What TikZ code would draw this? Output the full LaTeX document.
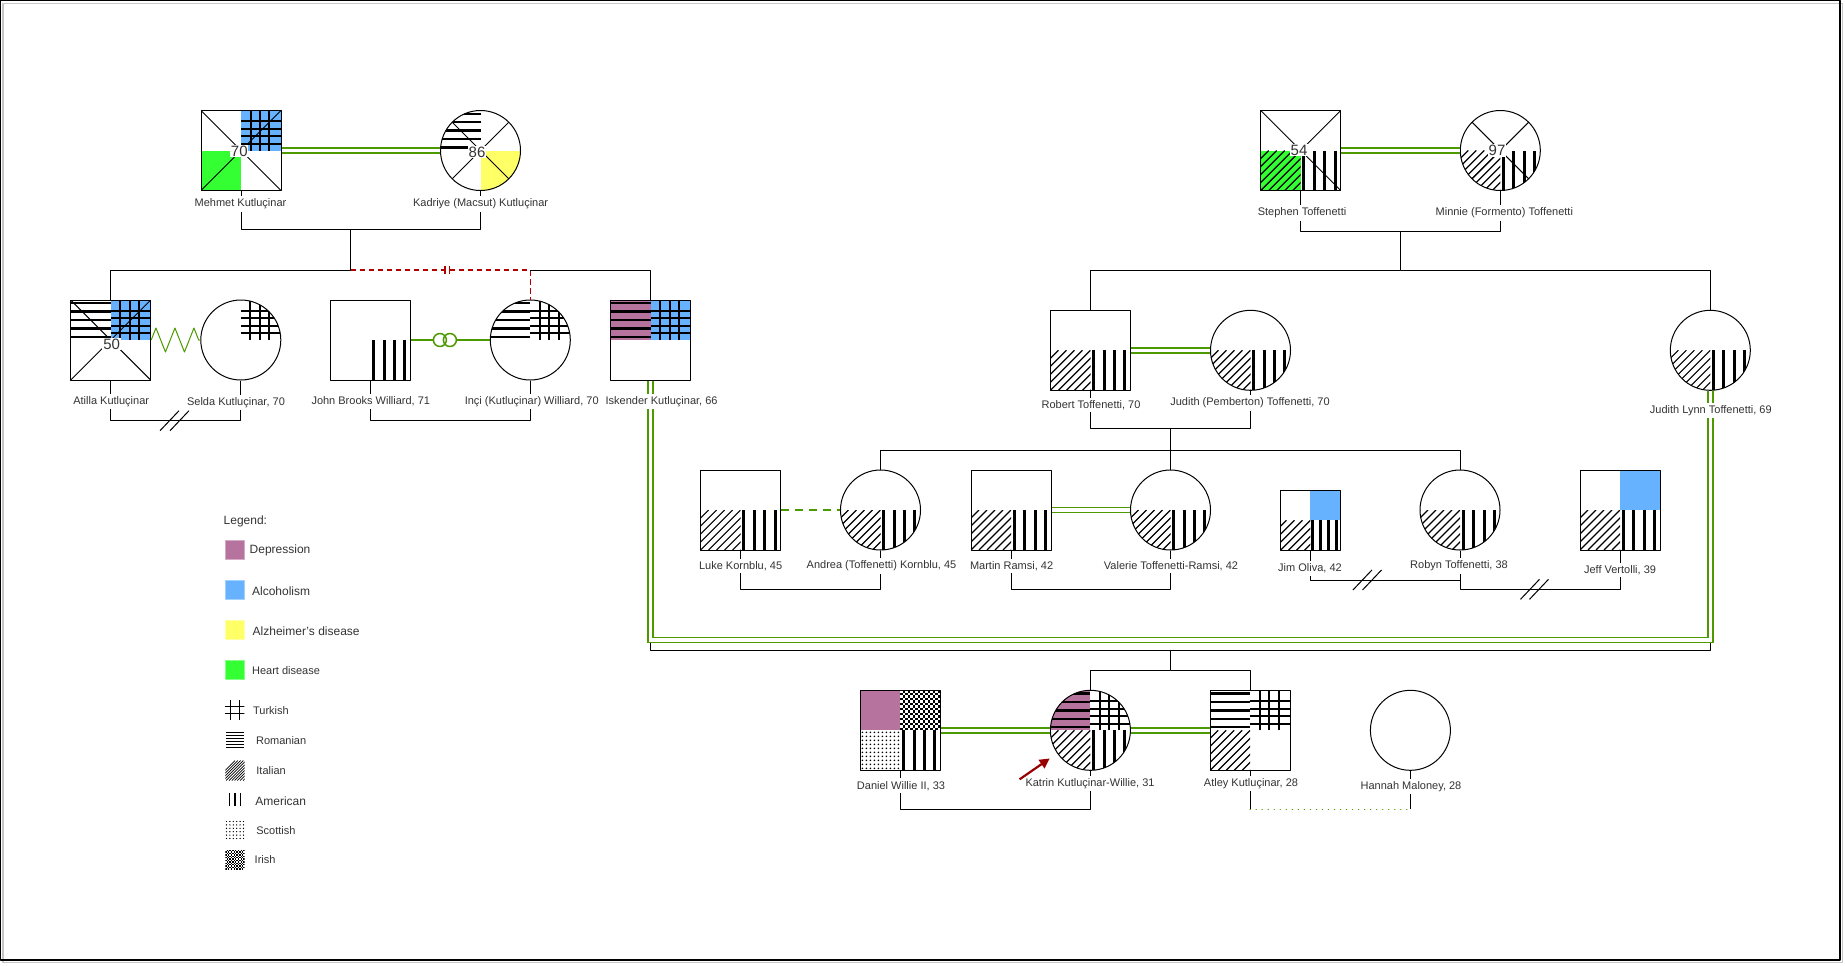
\documentclass[tikz,border=0pt]{standalone}
\usepackage{fontspec}
\setmainfont{Liberation Sans}
\usetikzlibrary{arrows.meta,decorations.pathmorphing}
\definecolor{deprc}{HTML}{B5739D}
\definecolor{alcoc}{HTML}{66B2FF}
\definecolor{alzc}{HTML}{FFFF66}
\definecolor{heartc}{HTML}{33FF33}
\definecolor{wedc}{HTML}{4D9900}
\definecolor{cutc}{HTML}{B20000}
\definecolor{arrc}{HTML}{990000}
\definecolor{txtc}{HTML}{333333}
\newcommand\inside[1]{\begin{scope}[shift={(path picture bounding box.center)},x=1pt,y=1pt]#1\end{scope}}
\newcommand\pfill[4]{\fill[#1] (#2,#3) rectangle ++(#4,#4);}
\newcommand\pturk[3]{%
	\foreach \f in {.24,.475,.71}{\draw[line width=1pt] ({#1+\f*#3},#2) -- ++(0,#3);}%
	\foreach \f in {.17,.36,.54,.73}{\draw[line width=1pt] (#1,{#2+\f*#3}) -- ++(#3,0);}}
\newcommand\prom[3]{\foreach \f in {.08,.29,.5,.71,.92}{\draw[line width=1.2pt] (#1,{#2+\f*#3}) -- ++(#3,0);}}
\newcommand\pital[3]{\begin{scope}\clip (#1,#2) rectangle ++(#3,#3);
	\foreach \k in {-20,-16,...,20}{\draw[line width=.6pt] ({#1+\k},#2) -- ++(#3,#3);}\end{scope}}
\newcommand\pamer[3]{\foreach \f in {.075,.34,.6,.86}{\draw[line width=1.5pt] ({#1+\f*#3},#2) -- ++(0,#3);}}
\newcommand\pscot[3]{\foreach \i in {0,...,9}{\foreach \j in {0,...,9}{\fill ({#1+1+2*\i},{#2+1+2*\j}) circle[radius=.45pt];}}}
\newcommand\pirish[3]{\foreach \i in {0,...,15}{\foreach \j in {0,...,15}{\pgfmathtruncatemacro\chk{mod(\i+\j,2)}%
	\ifnum\chk=0 \fill ({#1+1.25*\i},{#2+1.25*\j}) rectangle ++(1.25,1.25);\fi}}}
\newcommand\xmark{\draw[line width=.5pt] (-20,-20) -- (20,20) (-20,20) -- (20,-20);}
\begin{document}
\begin{tikzpicture}[x=.5pt,y=-.5pt,line join=round,
	male/.style={draw,line width=.5pt,minimum size=40pt,inner sep=0pt},
	female/.style={male,circle},
	toff/.style={path picture={\inside{\pital{-20}{-20}{20}\pamer{0}{-20}{20}}}},
	kin/.style={line width=.5pt},
	wed/.style={draw=wedc,double=white,double distance=1.6pt,line width=.9pt,line join=miter},
	affair/.style={draw=wedc,line width=.75pt,dash pattern=on 4pt off 3pt},
	dotline/.style={draw=wedc,line width=.8pt,dash pattern=on .01pt off 3pt,line cap=round},
	bond/.style={draw=wedc,line width=.75pt},
	conflict/.style={draw=wedc,line width=.5pt,decorate,decoration={zigzag,segment length=9.5pt,amplitude=6pt}},
	cutoff/.style={draw=cutc,line width=.75pt,dash pattern=on 2.7pt off 1.8pt},
	pointer/.style={draw=arrc,line width=1.1pt,-{Triangle[length=5pt,width=5pt]},shorten >=4.5pt},
	lbl/.style={fill=white,text=txtc,inner sep=1.3pt,font=\fontsize{5.5}{6.5}\selectfont},
	age/.style={fill=white,text=txtc,inner sep=.4pt,font=\fontsize{7.5}{8.5}\selectfont},
	swatch/.style={fill=#1,draw=#1!60!white,line width=.4pt,minimum size=9.5pt,inner sep=0pt},
	icon/.style={minimum size=9.7pt,inner sep=0pt},
	lgtext/.style={anchor=west,inner sep=0pt,text=txtc,font=\fontsize{6}{7}\selectfont},
	lgsmall/.style={lgtext,font=\fontsize{5.5}{6.5}\selectfont}]
	\useasboundingbox (0,0) rectangle (1845,965);
	\draw[gray!45,line width=.8pt] (2.7,3.3) rectangle (1842.5,962.5);
	\draw[line width=.8pt] (.5,.5) rectangle (1840,960);

	\node[male,path picture={\inside{\pfill{alcoc}{0}{0}{20}\pturk{0}{0}{20}\pfill{heartc}{-20}{-20}{20}\xmark}}] (mehmet) at (241,150.5) {};
	\node[female,path picture={\inside{\prom{-20}{0}{20}\pfill{alzc}{0}{-20}{20}\xmark}}] (kadriye) at (480.5,150.5) {};
	\node[male,path picture={\inside{\pfill{heartc}{-20}{-20}{20}\pital{-20}{-20}{20}\pamer{0}{-20}{20}\xmark}}] (stephen) at (1300.7,150.5) {};
	\node[female,path picture={\inside{\pital{-20}{-20}{20}\pamer{0}{-20}{20}\xmark}}] (minnie) at (1500.3,150.5) {};
	\node[male,path picture={\inside{\prom{-20}{0}{20}\pfill{alcoc}{0}{0}{20}\pturk{0}{0}{20}\xmark}}] (atilla) at (110.7,340) {};
	\node[female,path picture={\inside{\pturk{0}{0}{20}}}] (selda) at (240.8,340) {};
	\node[male,path picture={\inside{\pamer{0}{-20}{20}}}] (john) at (370.5,340) {};
	\node[female,path picture={\inside{\prom{-20}{0}{20}\pturk{0}{0}{20}}}] (inci) at (530.3,340) {};
	\node[male,path picture={\inside{\pfill{deprc}{-20}{0}{20}\prom{-20}{0}{20}\pfill{alcoc}{0}{0}{20}\pturk{0}{0}{20}}}] (iskender) at (650.5,340) {};
	\node[male,toff] (robert) at (1090.5,350.3) {};
	\node[female,toff] (judithp) at (1250.5,350.3) {};
	\node[female,toff] (judlynn) at (1710.3,350.3) {};
	\node[male,toff] (luke) at (740.6,510) {};
	\node[female,toff] (andrea) at (880.5,510) {};
	\node[male,toff] (martin) at (1011,510) {};
	\node[female,toff] (valerie) at (1170.5,510) {};
	\node[male,minimum size=30pt,path picture={\inside{\pfill{alcoc}{0}{0}{15}\pital{-15}{-15}{15}\pamer{0}{-15}{15}}}] (jim) at (1310.4,520.3) {};
	\node[female,toff] (robyn) at (1460,510) {};
	\node[male,path picture={\inside{\pfill{alcoc}{0}{0}{20}\pital{-20}{-20}{20}\pamer{0}{-20}{20}}}] (jeff) at (1620,510) {};
	\node[male,path picture={\inside{\pfill{deprc}{-20}{0}{20}\pirish{0}{0}{20}\pscot{-20}{-20}{20}\pamer{0}{-20}{20}}}] (daniel) at (900.4,730.3) {};
	\node[female,path picture={\inside{\pfill{deprc}{-20}{0}{20}\prom{-20}{0}{20}\pturk{0}{0}{20}\pital{-20}{-20}{20}\pamer{0}{-20}{20}}}] (katrin) at (1090.4,730.3) {};
	\node[male,path picture={\inside{\prom{-20}{0}{20}\pturk{0}{0}{20}\pital{-20}{-20}{20}}}] (atley) at (1250.2,730.3) {};
	\node[female] (hannah) at (1410.4,730.3) {};

	\node[age] (mehmetage) at (239.3,151) {70};
	\node[age] (kadriyeage) at (477,152) {86};
	\node[age] (stephenage) at (1299,150) {54};
	\node[age] (minnieage) at (1497,150.5) {97};
	\node[age] (atillaage) at (111.6,344) {50};

	\coordinate (kutlu) at (350.7,229.5);
	\coordinate (kutkids) at (350.7,270);
	\draw[kin] (mehmet) |- (kutlu) -| (kadriye);
	\draw[kin] (kutlu) -- (kutkids) -| (atilla);
	\draw[cutoff] (kutkids) -| (inci);
	\draw[kin] (inci |- kutkids) -| (iskender);
	\draw[draw=cutc,line width=.6pt] (445,266) -- (445,274) (449.5,266) -- (449.5,274);

	\coordinate (toff) at (1400.5,231.8);
	\coordinate (toffkids) at (1400.5,270.6);
	\draw[kin] (stephen) |- (toff) -| (minnie);
	\draw[kin] (toff) -- (toffkids) -| (robert);
	\draw[kin] (toffkids) -| (judlynn);

	\coordinate (pember) at (1170.5,428.3);
	\coordinate (pemkids) at (1170.5,450);
	\draw[kin] (robert) |- (pember) -| (judithp);
	\draw[kin] (pember) -- (pemkids) -- (valerie);
	\draw[kin] (andrea) |- (pemkids) -| (robyn);

	\coordinate (atsel) at (175,420.7);
	\coordinate (join) at (450,420.7);
	\coordinate (kornblu) at (810,589.3);
	\coordinate (ramsi) at (1090,589.3);
	\coordinate (jimrob) at (1385,580);
	\coordinate (robjeff) at (1540,589.3);
	\coordinate (willie) at (995,809.3);
	\coordinate (athan) at (1330,809.3);
	\draw[kin] (atilla) |- (atsel) -| (selda);
	\draw[kin] (john) |- (join) -| (inci);
	\draw[kin] (luke) |- (kornblu) -| (andrea);
	\draw[kin] (martin) |- (ramsi) -| (valerie);
	\draw[kin] (jim) |- (jimrob) -| (robyn);
	\draw[kin] (robyn) |- (robjeff) -| (jeff);
	\draw[kin] (daniel) |- (willie) -| (katrin);
	\draw[kin] (atley) -- (atley |- athan);
	\draw[kin] (hannah) -- (hannah |- athan);
	\draw[dotline] (atley |- athan) -- (hannah |- athan);
	\draw[kin] (160,430.7) -- ++(19,-20) (170,430.7) -- ++(19,-20);
	\draw[kin] (1352.9,590) -- ++(19,-20) (1362.5,590) -- ++(19,-20);
	\draw[kin] (1520.5,599.3) -- ++(19,-20) (1529.5,599.3) -- ++(19,-20);

	\coordinate (iskids) at (1170.5,650);
	\coordinate (kkids) at (1170.5,670.7);
	\coordinate (isjud) at (1180,640);
	\draw[kin] (iskender) |- (iskids) -| (judlynn);
	\draw[kin] (iskids) -- (kkids) -| (katrin);
	\draw[kin] (kkids) -| (atley);
	\draw[wed] (iskender) |- (isjud) -| (judlynn);

	\draw[wed] (mehmet) -- (kadriye);
	\draw[wed] (stephen) -- (minnie);
	\draw[wed] (robert) -- (judithp);
	\draw[wed] (martin) -- (valerie);
	\draw[wed] (daniel) -- (katrin);
	\draw[wed] (katrin) -- (atley);
	\draw[affair] (luke) -- (andrea);
	\draw[conflict] (atilla) -- (selda);
	\draw[bond] (john) -- coordinate[pos=.43] (rings) (inci);
	\fill[white] ([xshift=-2.5pt]rings) circle[radius=3.25pt] ([xshift=2.5pt]rings) circle[radius=3.25pt];
	\draw[bond] ([xshift=-2.5pt]rings) circle[radius=3.25pt] ([xshift=2.5pt]rings) circle[radius=3.25pt];

	\node[lbl] (mehmetlbl) at (240.5,204) {Mehmet Kutluçinar};
	\node[lbl] (kadriyelbl) at (480.6,204) {Kadriye (Macsut) Kutluçinar};
	\node[lbl] (stephenlbl) at (1302,213) {Stephen Toffenetti};
	\node[lbl] (minnielbl) at (1504.3,213) {Minnie (Formento) Toffenetti};
	\node[lbl] (atillalbl) at (111.2,401.7) {Atilla Kutluçinar};
	\node[lbl] (seldalbl) at (236,402.7) {Selda Kutluçinar, 70};
	\node[lbl] (johnlbl) at (370.8,401.7) {John Brooks Williard, 71};
	\node[lbl] (incilbl) at (531.7,401.7) {Inçi (Kutluçinar) Williard, 70};
	\node[lbl] (iskenderlbl) at (661.6,401.7) {Iskender Kutluçinar, 66};
	\node[lbl] (robertlbl) at (1091,405) {Robert Toffenetti, 70};
	\node[lbl] (judithplbl) at (1250,403) {Judith (Pemberton) Toffenetti, 70};
	\node[lbl] (judlynnlbl) at (1710.8,410.7) {Judith Lynn Toffenetti, 69};
	\node[lbl] (lukelbl) at (740.6,566) {Luke Kornblu, 45};
	\node[lbl] (andrealbl) at (881.5,566) {Andrea (Toffenetti) Kornblu, 45};
	\node[lbl] (martinlbl) at (1011.6,566) {Martin Ramsi, 42};
	\node[lbl] (valerielbl) at (1171,566) {Valerie Toffenetti-Ramsi, 42};
	\node[lbl] (jimlbl) at (1310,568.7) {Jim Oliva, 42};
	\node[lbl] (robynlbl) at (1459,566) {Robyn Toffenetti, 38};
	\node[lbl] (jefflbl) at (1620,570) {Jeff Vertolli, 39};
	\node[lbl] (daniellbl) at (901,785.7) {Daniel Willie II, 33};
	\node[lbl] (katrinlbl) at (1090,783.3) {Katrin Kutluçinar-Willie, 31};
	\node[lbl] (atleylbl) at (1251,783.3) {Atley Kutluçinar, 28};
	\node[lbl] (hannahlbl) at (1411,786.7) {Hannah Maloney, 28};

	\coordinate (kpoint) at (1019.6,779.3);
	\draw[pointer] (kpoint) -- (katrin);

	\node[lgtext] (legend) at (223.3,521.7) {Legend:};
	\node[swatch=deprc] (lgdep) at (235.3,550.3) {};
	\node[swatch=alcoc] (lgalc) at (235.3,590.3) {};
	\node[swatch=alzc] (lgalz) at (235.3,630.3) {};
	\node[swatch=heartc] (lgheart) at (235.3,670.3) {};
	\node[lgtext] (lgdeptx) at (249.3,550.7) {Depression};
	\node[lgtext] (lgalctx) at (251.7,590.7) {Alcoholism};
	\node[lgtext] (lgalztx) at (252.3,630.7) {Alzheimer's disease};
	\node[lgsmall] (lghearttx) at (251.7,670.3) {Heart disease};
	\node[icon,path picture={\inside{\draw[line width=.5pt] (-2.3,-5) -- (-2.3,5) (2.2,-5) -- (2.2,5) (-5,1.65) -- (5,1.65) (-5,-1.65) -- (5,-1.65);}}] (lgturk) at (234.6,710) {};
	\node[icon,path picture={\inside{\foreach \k in {0,...,5}{\draw[line width=.45pt] (-4.5,{3.8-1.5*\k}) -- (4.5,{3.8-1.5*\k});}}}] (lgrom) at (235,740) {};
	\node[icon,path picture={\inside{\foreach \k in {-10,-8.6,...,10}{\draw[line width=.35pt] (\k,-5) -- ++(10,10);}}}] (lgital) at (235,770.5) {};
	\node[icon,path picture={\inside{\foreach \k in {-2.85,0,2.85}{\draw[line width=.65pt] (\k,-3.3) -- (\k,3.3);}}}] (lgamer) at (235,799.3) {};
	\node[icon,path picture={\inside{\foreach \i in {0,...,5}{\foreach \j in {0,...,5}{\fill ({-4.25+1.7*\i},{-4.25+1.7*\j}) circle[radius=.35pt];}}}}] (lgscot) at (235,830) {};
	\node[icon,path picture={\inside{\foreach \i in {0,...,13}{\foreach \j in {0,...,13}{\pgfmathtruncatemacro\chk{mod(\i+\j,2)}\ifnum\chk=0 \fill ({-4.9+.7*\i},{-4.9+.7*\j}) rectangle ++(.7,.7);\fi}}}}] (lgirish) at (235,859.7) {};
	\node[lgsmall] (lgturktx) at (252.7,710.7) {Turkish};
	\node[lgsmall] (lgromtx) at (255.7,740.7) {Romanian};
	\node[lgsmall] (lgitaltx) at (256,771) {Italian};
	\node[lgtext] (lgamertx) at (255,800.7) {American};
	\node[lgsmall] (lgscottx) at (256,831) {Scottish};
	\node[lgsmall] (lgirishtx) at (254.3,860) {Irish};
\end{tikzpicture}
\end{document}
